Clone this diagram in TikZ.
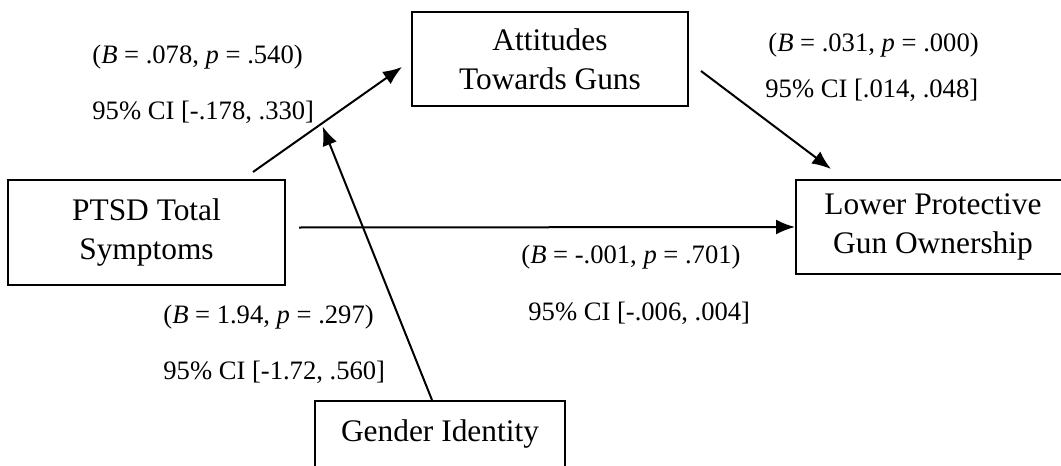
\documentclass[tikz,border=0pt]{standalone}
\usepackage{fontspec}
\setmainfont{Liberation Serif}
\usetikzlibrary{calc,positioning,arrows.meta}

\begin{document}
\begin{tikzpicture}[x=0.5pt, y=-0.5pt
        , box/.style={ draw, line width=1pt, align=center, inner sep=0pt
            , font=\fontsize{15.7}{19.5}\selectfont }
        , lbl/.style={ anchor=west, inner sep=0pt, font=\fontsize{13.3}{16}\selectfont }
        , arr/.style={ line width=1pt, -{Latex[length=9.5pt,width=7.5pt]} }
        ]

        \useasboundingbox (0,0) rectangle (1061,466);

        \node[box, minimum width=138.5pt, minimum height=52.5pt] (ptsd) at (146.5,232.5)
            {PTSD Total\\Symptoms};
        \node[box, minimum width=138pt, minimum height=47pt] (att) at (550,59)
            {Attitudes\\Towards Guns};
        \node[box, minimum width=137pt, minimum height=47pt] (lower) at (933,227)
            {Lower Protective\\Gun Ownership};
        \node[box, anchor=north, minimum width=125pt, inner ysep=9pt
            , text height=11pt, text depth=25pt] (gender) at (440,400) {Gender Identity};

        % a path and the moderator pointing at it
        \draw[arr] ($(ptsd.north east)+(-33,-7)$) -- ($(att.west)+(-9,8)$)
            coordinate[pos=.46] (mod);
        \draw[arr, shorten >=1.5pt] ($(gender.north)+(-8,0)$) -- (mod);

        \draw[arr] ($(att.east)+(12,12)$) -- ($(lower.north west)+(36,-10)$);
        \draw[arr] ($(ptsd.east)+(13,-5)$) -- (lower.west);

        % coefficients
        \node[lbl] (b1) at (92,57) {(\textit{B} = .078, \textit{p} = .540)};
        \node[lbl] (ci1) at (92,112) {95\% CI [-.178, .330]};
        \node[lbl] (b2) at (768,45) {(\textit{B} = .031, \textit{p} = .000)};
        \node[lbl] (ci2) at (765,90) {95\% CI [.014, .048]};
        \node[lbl] (b3) at (521,257) {(\textit{B} = -.001, \textit{p} = .701)};
        \node[lbl] (ci3) at (528,313) {95\% CI [-.006, .004]};
        \node[lbl] (b4) at (163,317) {(\textit{B} = 1.94, \textit{p} = .297)};
        \node[lbl] (ci4) at (163,372) {95\% CI [-1.72, .560]};

    \end{tikzpicture}
\end{document}
